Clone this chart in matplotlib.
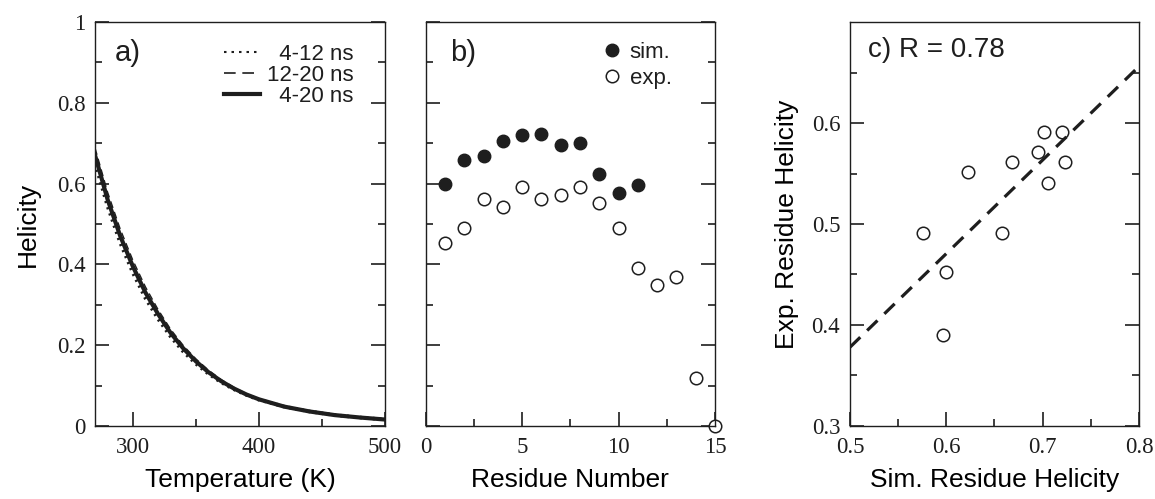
import numpy as np
import matplotlib
matplotlib.use("Agg")
import matplotlib.pyplot as plt
from matplotlib.ticker import MultipleLocator, FixedLocator, FixedFormatter

# panel a: helicity vs temperature
temp = [270, 280, 290, 300, 310, 320, 330, 340, 350, 360, 370, 380, 390,
        400, 420, 440, 460, 480, 500]
hel_4_20 = [0.670, 0.560, 0.470, 0.395, 0.330, 0.277, 0.230, 0.192, 0.160,
            0.133, 0.111, 0.093, 0.078, 0.066, 0.048, 0.036, 0.027, 0.021, 0.016]
hel_4_12 = [0.650, 0.543, 0.453, 0.379, 0.316, 0.265, 0.221, 0.184, 0.154,
            0.129, 0.108, 0.091, 0.077, 0.065, 0.048, 0.036, 0.027, 0.021, 0.016]
hel_12_20 = [0.688, 0.578, 0.487, 0.410, 0.344, 0.288, 0.239, 0.199, 0.166,
             0.138, 0.115, 0.096, 0.080, 0.067, 0.049, 0.036, 0.027, 0.021, 0.016]

# panel b: per-residue helicity
res_sim = list(range(1, 12))
hel_sim = [0.600, 0.658, 0.668, 0.706, 0.720, 0.723, 0.695, 0.701, 0.623, 0.576, 0.597]
res_exp = list(range(1, 16))
hel_exp = [0.452, 0.491, 0.561, 0.541, 0.591, 0.561, 0.571, 0.591, 0.551, 0.491,
           0.390, 0.350, 0.370, 0.120, 0.0]

# panel c: fit line
fit_x = [0.5, 0.8]
fit_y = [0.378, 0.656]
r_value = 0.78

serif = "Liberation Serif"
sans = "Liberation Sans"
ink = "#1e1e1e"
plt.rcParams["font.family"] = sans
plt.rcParams["text.color"] = ink
plt.rcParams["axes.edgecolor"] = ink
plt.rcParams["xtick.color"] = ink
plt.rcParams["ytick.color"] = ink

fig = plt.figure(figsize=(11.55, 4.99), dpi=100)
bot, hgt = 0.1463, 0.8096
ax_a = fig.add_axes([0.0823, bot, 0.2511, hgt])
ax_b = fig.add_axes([0.3686, bot, 0.2505, hgt])
ax_c = fig.add_axes([0.7359, bot, 0.2502, hgt])

LAB = 19
TICK = 16.5


def style(ax):
    for s in ax.spines.values():
        s.set_linewidth(1.0)
    ax.tick_params(which="both", direction="in", top=False, right=True,
                   width=1.2, labelsize=TICK)
    ax.tick_params(axis="x", which="both", pad=8)
    ax.tick_params(axis="y", which="both", pad=7)
    ax.tick_params(which="major", length=10)
    ax.tick_params(which="minor", length=5)
    for lab in ax.get_xticklabels() + ax.get_yticklabels():
        lab.set_fontfamily(serif)


# a)
ax_a.plot(temp, hel_4_12, ls=(0, (0.6, 1.2)), lw=2.6, color=ink, label="  4-12 ns")
ax_a.plot(temp, hel_12_20, ls=(0, (5, 3)), lw=1.0, color=ink, label="12-20 ns")
ax_a.plot(temp, hel_4_20, ls="-", lw=3.0, color=ink, label="  4-20 ns")
ax_a.set_xlim(270, 500)
ax_a.set_ylim(0, 1)
ax_a.xaxis.set_major_locator(FixedLocator([300, 400, 500]))
ax_a.xaxis.set_minor_locator(FixedLocator([350, 450]))
ax_a.yaxis.set_major_locator(FixedLocator([0, 0.2, 0.4, 0.6, 0.8, 1.0]))
ax_a.yaxis.set_major_formatter(FixedFormatter(["0", "0.2", "0.4", "0.6", "0.8", "1"]))
ax_a.yaxis.set_minor_locator(MultipleLocator(0.1))
ax_a.set_xlabel("Temperature (K)", fontsize=LAB, labelpad=7)
ax_a.set_ylabel("Helicity", fontsize=LAB, labelpad=12)
ax_a.text(0.069, 0.923, "a)", transform=ax_a.transAxes, fontsize=21, va="center")
leg = ax_a.legend(loc="upper right", bbox_to_anchor=(0.89, 0.945), frameon=False,
                  fontsize=16, handlelength=1.6, handletextpad=0.3,
                  labelspacing=0.0, borderpad=0, borderaxespad=0)
h_dot, h_dash, h_solid = leg.get_lines()
h_dot.set_linewidth(1.5)
h_dot.set_dashes([1.2, 2.4])
h_dash.set_linewidth(1.2)
h_dash.set_dashes([7, 4])
h_solid.set_linewidth(3.0)
style(ax_a)

# b)
ax_b.plot(res_sim, hel_sim, "o", ms=9, color=ink, label="sim.", clip_on=False)
ax_b.plot(res_exp, hel_exp, "o", ms=9, mfc="white", mec=ink, mew=1.1,
          label="exp.", clip_on=False)
ax_b.set_xlim(0, 15)
ax_b.set_ylim(0, 1)
ax_b.xaxis.set_major_locator(MultipleLocator(5))
ax_b.xaxis.set_minor_locator(MultipleLocator(2.5))
ax_b.yaxis.set_major_locator(MultipleLocator(0.2))
ax_b.yaxis.set_minor_locator(MultipleLocator(0.1))
ax_b.set_xlabel("Residue Number", fontsize=LAB, labelpad=7)
ax_b.text(0.084, 0.923, "b)", transform=ax_b.transAxes, fontsize=21, va="center")
ax_b.legend(loc="upper right", bbox_to_anchor=(0.85, 0.95), frameon=False,
            fontsize=16, handlelength=1.0, handletextpad=0.3, labelspacing=0.2,
            borderpad=0, borderaxespad=0)
style(ax_b)
ax_b.tick_params(axis="y", which="both", labelleft=False)

# c)
ax_c.plot(hel_sim, hel_exp[:len(hel_sim)], "o", ms=9, mfc="white", mec=ink, mew=1.1)
ax_c.plot(fit_x, fit_y, ls=(0, (4.5, 3)), lw=2.3, color=ink)
ax_c.set_xlim(0.5, 0.8)
ax_c.set_ylim(0.3, 0.7)
ax_c.xaxis.set_major_locator(MultipleLocator(0.1))
ax_c.xaxis.set_minor_locator(MultipleLocator(0.05))
ax_c.yaxis.set_major_locator(FixedLocator([0.3, 0.4, 0.5, 0.6]))
ax_c.yaxis.set_minor_locator(FixedLocator([0.35, 0.45, 0.55, 0.65]))
ax_c.set_xlabel("Sim. Residue Helicity", fontsize=LAB, labelpad=7)
ax_c.set_ylabel("Exp. Residue Helicity", fontsize=LAB, labelpad=9)
ax_c.text(0.062, 0.93, "c) R = %.2f" % r_value, transform=ax_c.transAxes,
          fontsize=20, va="center")
style(ax_c)

fig.savefig("out.png", dpi=100)
